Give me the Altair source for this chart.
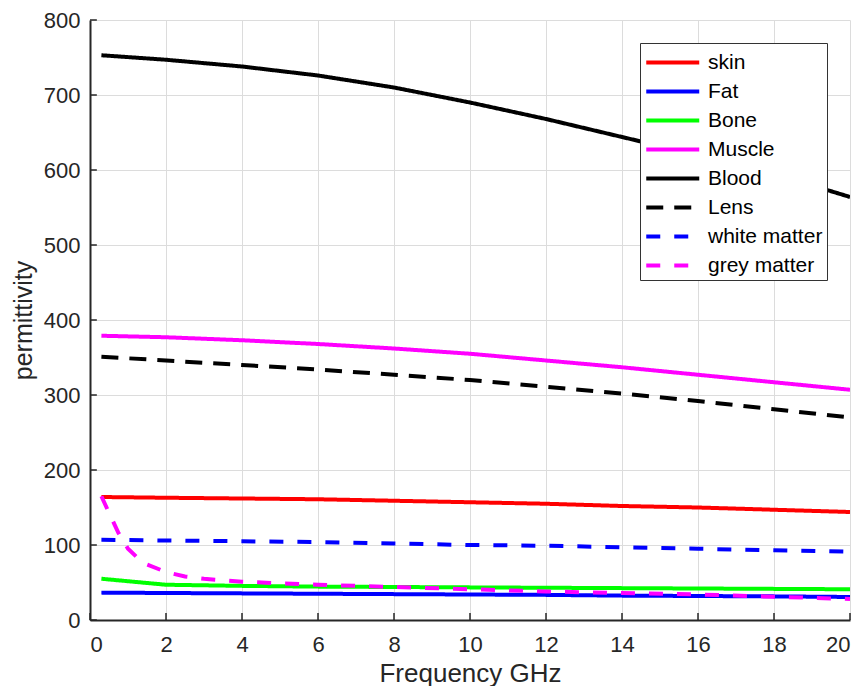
import altair as alt
import pandas as pd

tissues = ["skin", "Fat", "Bone", "Muscle", "Blood", "Lens", "white matter", "grey matter"]
colors = ["#ff0000", "#0000ff", "#00ff00", "#ff00ff", "#000000", "#000000", "#0000ff", "#ff00ff"]
dashes = [[1, 0], [1, 0], [1, 0], [1, 0], [1, 0], [17, 11], [14, 14], [14, 14]]
widths = [4, 4, 4, 4, 4, 2.5, 4, 4]

freq = [0.3, 2, 4, 6, 8, 10, 12, 14, 16, 18, 20]
skin = [164, 163, 162, 161, 159, 157, 155, 152, 150, 147, 144]
fat = [36.5, 36, 35.5, 35, 34.5, 34, 33.5, 32.5, 32, 31.5, 30.7]
bone = [55, 47, 45.5, 44.5, 44, 43.5, 43, 42.5, 42, 41.5, 41]
muscle = [379, 377, 373, 368, 362, 355, 346, 337, 327, 317, 307]
blood = [753, 747, 738, 726, 710, 690, 668, 644, 620, 595, 564]
lens = [351, 346, 340, 334, 327, 320, 311, 302, 292, 281, 270]
white = [107, 106, 105, 104, 102, 100, 99, 97, 95, 93, 91]

grey_freq = [0.3, 0.5, 0.75, 1.0, 1.25, 1.5, 2, 2.5, 3, 4, 5, 6, 8, 10, 12, 14, 16, 18, 20]
grey = [165, 143, 116, 95, 83, 74, 64, 58, 55, 51, 49, 47, 44, 41, 38, 36, 34, 31, 28]

xticks = [0, 2, 4, 6, 8, 10, 12, 14, 16, 18, 20]
yticks = [0, 100, 200, 300, 400, 500, 600, 700, 800]

rows = []
for name, vals in zip(tissues[:7], [skin, fat, bone, muscle, blood, lens, white]):
    for f, v in zip(freq, vals):
        rows.append({"tissue": name, "f": f, "p": v})
for f, v in zip(grey_freq, grey):
    rows.append({"tissue": "grey matter", "f": f, "p": v})
df = pd.DataFrame(rows)

FONT = "Liberation Sans"

xscale = alt.Scale(domain=[0, 20], nice=False, zero=False)
yscale = alt.Scale(domain=[0, 800], nice=False)

lines = alt.Chart(df).mark_line(clip=True).encode(
    x=alt.X("f:Q", scale=xscale, title="Frequency GHz",
            axis=alt.Axis(values=xticks, ticks=False, grid=True, labelPadding=14,
                          titleY=61, titleBaseline="alphabetic", titleFontSize=26)),
    y=alt.Y("p:Q", scale=yscale, title="permittivity",
            axis=alt.Axis(values=yticks, ticks=False, grid=True, labelPadding=10,
                          titleX=-67, titleBaseline="middle", titleFontSize=25)),
    color=alt.Color("tissue:N", scale=alt.Scale(domain=tissues, range=colors), title=None,
                    sort=tissues,
                    legend=alt.Legend(orient="none", legendX=550, legendY=23,
                                      symbolType="M-1,0H3", symbolSize=702,
                                      labelFontSize=21, labelFont=FONT,
                                      labelColor="#000000", padding=4, strokeColor="#333333",
                                      fillColor="white", rowPadding=3, labelOffset=33,
                                      labelLimit=300)),
    strokeDash=alt.StrokeDash("tissue:N", scale=alt.Scale(domain=tissues, range=dashes), title=None,
                              sort=tissues),
    strokeWidth=alt.StrokeWidth("tissue:N", scale=alt.Scale(domain=tissues, range=widths), title=None,
                                sort=tissues),
    detail="tissue:N",
    order="f:Q",
)

xt = alt.Chart(pd.DataFrame({"v": xticks})).mark_rule(color="#262626", strokeWidth=1.5).encode(
    x=alt.X("v:Q", scale=xscale), y=alt.datum(0), y2=alt.datum(9.3))
yt = alt.Chart(pd.DataFrame({"v": yticks})).mark_rule(color="#262626", strokeWidth=1.5).encode(
    y=alt.Y("v:Q", scale=yscale), x=alt.datum(0), x2=alt.datum(0.18))

chart = alt.layer(lines, xt, yt).properties(
    width=760, height=600,
    autosize=alt.AutoSizeParams(type="none"),
    padding={"left": 82, "top": 12, "right": 8, "bottom": 66},
    background="white",
).configure_axis(
    labelFont=FONT, titleFont=FONT, labelFontSize=22,
    labelColor="#262626", titleColor="#262626", titleFontWeight="normal",
    domainColor="#262626", domainWidth=2, gridColor="#dcdcdc", gridWidth=1,
).configure_view(stroke=None)

chart.save("out.html", embed_options={"renderer": "svg", "actions": False})
